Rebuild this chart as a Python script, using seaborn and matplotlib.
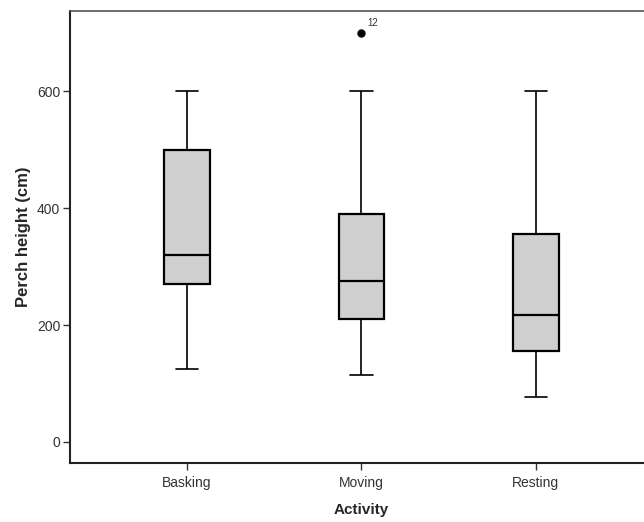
import numpy as np
import pandas as pd
import matplotlib
matplotlib.use("Agg")
import matplotlib.pyplot as plt
import seaborn as sns

# values (cm)
activities = ["Basking", "Moving", "Resting"]
whisker_low = [125, 115, 77]
q1 = [270, 210, 155]
median = [320, 275, 217]
q3 = [500, 390, 355]
whisker_high = [600, 600, 600]
outliers = [[], [700], []]
outlier_labels = [[], ["12"], []]
yticks = [0, 200, 400, 600]

# observations that reproduce each five-number summary
rows = []
for i, act in enumerate(activities):
    vals = [whisker_low[i], q1[i], q1[i], median[i], median[i], q3[i], q3[i],
            whisker_high[i]] + outliers[i]
    rows += [(act, v) for v in vals]
df = pd.DataFrame(rows, columns=["Activity", "Perch height (cm)"])

sns.set_style("white")
plt.rcParams["font.family"] = ["Liberation Sans", "DejaVu Sans"]

fig = plt.figure(figsize=(6.44, 5.22), dpi=100)
ax = fig.add_axes([0.1087, 0.113, 0.905, 0.866])

sns.boxplot(data=df, x="Activity", y="Perch height (cm)", order=activities,
            width=0.26, color="#cfcfcf", saturation=1, linecolor="black",
            linewidth=1.2, fliersize=5,
            boxprops=dict(linewidth=1.6),
            medianprops=dict(linewidth=1.6),
            flierprops=dict(marker="o", markerfacecolor="black",
                            markeredgecolor="black"),
            ax=ax)

for i, labs in enumerate(outlier_labels):
    for v, lab in zip(outliers[i], labs):
        ax.annotate(lab, (i, v), xytext=(4, 5), textcoords="offset points",
                    fontsize=7, color="#333333")

ax.set_xlim(-0.67, 2.67)
ax.set_ylim(-36, 737)
ax.set_yticks(yticks)
ax.set_xlabel("Activity", fontsize=11, fontweight="bold", labelpad=10)
ax.set_ylabel("Perch height (cm)", fontsize=12, fontweight="bold", labelpad=4)
ax.tick_params(axis="both", which="both", direction="out", length=5,
               width=1, color="#333333", labelsize=10, labelcolor="#333333",
               bottom=True, left=True, pad=2)
ax.tick_params(axis="x", pad=4)

for side in ["left", "bottom"]:
    ax.spines[side].set_linewidth(1.5)
    ax.spines[side].set_color("#222222")
ax.spines["top"].set_linewidth(1.2)
ax.spines["top"].set_color("#555555")
ax.spines["right"].set_visible(False)

fig.savefig("out.png", dpi=100)
